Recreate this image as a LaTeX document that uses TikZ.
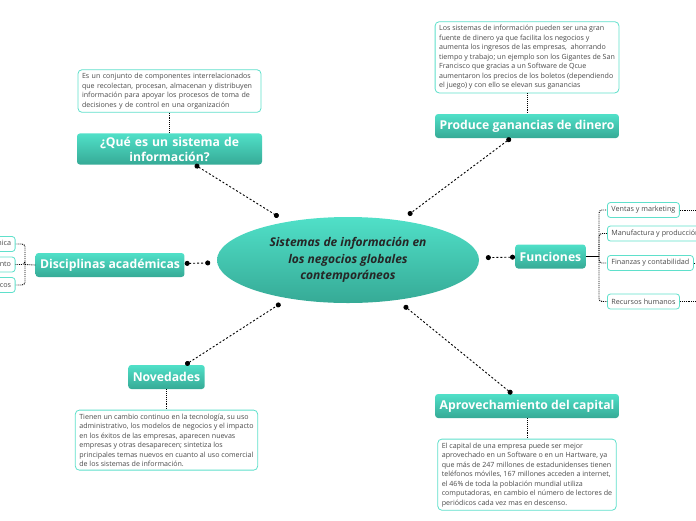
\documentclass[tikz,border=0pt]{standalone}
\usepackage{fontspec}
\setmainfont{Open Sans}
\usetikzlibrary{shapes.geometric, arrows.meta, positioning}

\definecolor{tealtop}{HTML}{50E0C8}
\definecolor{tealbot}{HTML}{36AA96}
\definecolor{tealline}{HTML}{5FE0CB}
\definecolor{txtgray}{HTML}{4A4A4A}

\begin{document}
\begin{tikzpicture}[x=1pt, y=-1pt,
    topic/.style={rectangle, rounded corners=3pt, top color=tealtop, bottom color=tealbot,
      text=white, font=\fontsize{12.2}{15}\selectfont\bfseries, minimum height=24pt,
      inner xsep=4.5pt, align=center},
    desc/.style={rectangle, rounded corners=4pt, draw=tealline, line width=0.8pt, fill=white,
      text=txtgray, font=\fontsize{7.1}{9.5}\selectfont, align=left, inner xsep=4pt, inner ysep=3.5pt},
    leaf/.style={rectangle, rounded corners=3pt, draw=tealline, line width=0.8pt, fill=white,
      text=txtgray, font=\fontsize{7.2}{8}\selectfont, minimum height=15pt, inner xsep=4pt, inner ysep=1pt},
    link/.style={line width=0.9pt, dash pattern=on 2pt off 2pt, {Circle[length=5pt]}-{Circle[length=5pt]}},
    dots/.style={line width=0.9pt, densely dotted},
    node distance=20.5pt]
  \useasboundingbox (0,0) rectangle (696,520);

  % centre
  \node[ellipse, minimum width=262pt, minimum height=86pt, top color=tealtop, bottom color=tealbot,
    inner sep=0pt, outer sep=7pt, text=black!85, align=center,
    font=\fontsize{12}{16.5}\selectfont\bfseries\itshape] (sig) at (348,260)
    {Sistemas de información en\\ los negocios globales\\ contemporáneos};

  % main topics
  \node[topic, text width=176pt] (que) at (169.5,149) {¿Qué es un sistema de\\ información?};
  \node[topic] (gan) at (527,126) {Produce ganancias de dinero};
  \node[topic] (dis) at (110,265) {Disciplinas académicas};
  \node[topic] (fun) at (550.5,256.5) {Funciones};
  \node[topic] (nov) at (166.5,377) {Novedades};
  \node[topic] (apr) at (527,406) {Aprovechamiento del capital};

  \foreach \t in {que, gan, dis, fun, nov, apr} {
    \draw[link] (\t) -- (sig);
  }

  % descriptions
  \node[desc, text width=175pt, above=of que] (qued) {Es un conjunto de componentes interrelacionados\\
    que recolectan, procesan, almacenan y distribuyen\\
    información para apoyar los procesos de toma de\\
    decisiones y de control en una organización};
  \node[desc, above=of gan] (gand) {Los sistemas de información pueden ser una gran\\
    fuente de dinero ya que facilita los negocios y\\
    aumenta los ingresos de las empresas,\ \ ahorrando\\
    tiempo y trabajo; un ejemplo son los Gigantes de San\\
    Francisco que gracias a un Software de Qcue\\
    aumentaron los precios de los boletos (dependiendo\\
    el juego) y con ello se elevan sus ganancias};
  \node[desc, below=of nov] (novd) {Tienen un cambio continuo en la tecnología, su uso\\
    administrativo, los modelos de negocios y el impacto\\
    en los éxitos de las empresas, aparecen nuevas\\
    empresas y otras desaparecen; sintetiza los\\
    principales temas nuevos en cuanto al uso comercial\\
    de los sistemas de información.};
  \node[desc, below=of apr] (aprd) {El capital de una empresa puede ser mejor\\
    aprovechado en un Software o en un Hartware, ya\\
    que más de 247 millones de estadunidenses tienen\\
    teléfonos móviles, 167 millones acceden a internet,\\
    el 46\% de toda la población mundial utiliza\\
    computadoras, en cambio el número de lectores de\\
    periódicos cada vez mas en descenso.};

  \draw[dots] (qued) -- (que);
  \draw[dots] (gand) -- (gan);
  \draw[dots] (nov) -- (novd);
  \draw[dots] (apr) -- (aprd);

  % funciones
  \node[leaf, anchor=west] (f1) at (607,210) {Ventas y marketing};
  \node[leaf, anchor=west] (f2) at (607,233.5) {Manufactura y producción};
  \node[leaf, anchor=west] (f3) at (607,263) {Finanzas y contabilidad};
  \node[leaf, anchor=west] (f4) at (607,301.5) {Recursos humanos};
  \coordinate (fj) at (599,256.5);
  \draw[line width=0.9pt] (fun.east) -- (fj);
  \foreach \f in {f1, f2, f3, f4} {
    \draw[dots, rounded corners=3pt] (fj) |- (\f.west);
    \draw[dots] (\f.east) -- ++(30,0);
  }

  % disciplinas
  \node[leaf, anchor=east] (d1) at (15.5,244) {Perspectiva técnica};
  \node[leaf, anchor=east] (d2) at (15.5,264.5) {Perspectiva del comportamiento};
  \node[leaf, anchor=east] (d3) at (15.5,285) {Sistemas sociotécnicos};
  \coordinate (dj) at (25,264.5);
  \draw[dots] (dis.west) -- (dj);
  \foreach \d in {d1, d2, d3} {
    \draw[dots, rounded corners=3pt] (dj) |- (\d.east);
  }
\end{tikzpicture}
\end{document}
